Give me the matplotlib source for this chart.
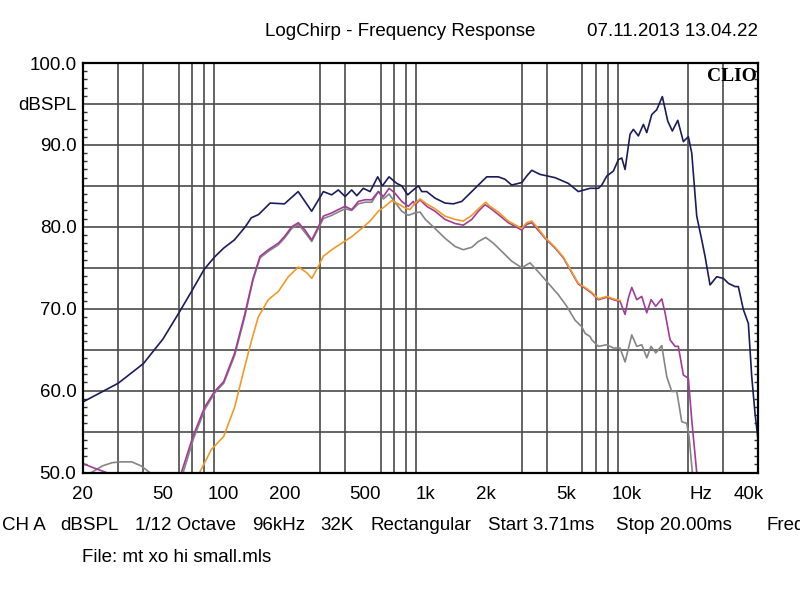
import matplotlib
matplotlib.use("Agg")
import matplotlib.pyplot as plt
from matplotlib.ticker import FixedLocator, NullFormatter

plt.rcParams['font.family'] = ['Liberation Sans', 'DejaVu Sans']

# ---------------- data ----------------
blue_f = [20, 30, 40, 50, 60, 70, 80, 90, 100, 113, 128, 137, 149, 170, 200, 234, 273, 312,
          343, 370, 400, 431, 457, 492, 532, 580, 612, 660, 721, 763, 817, 871, 923, 959,
          1015, 1116, 1251, 1376, 1514, 1665, 1830, 2014, 2299, 2482, 2678, 3003, 3179,
          3366, 3700, 4393, 5111, 5729, 6549, 7203, 7487, 7927, 8546, 9048, 9406, 9768,
          10340, 10738, 11370, 12037, 12513, 13246, 14023, 14949, 15901, 16757, 17825,
          19000, 20115, 20910, 22135, 23436, 24336, 25763, 27811, 30000, 31762, 34277,
          35592, 37680, 39900, 41475, 43065, 44720]
blue_db = [58.6, 60.9, 63.3, 66.3, 69.5, 72.3, 74.8, 76.3, 77.4, 78.4, 80.0, 81.1, 81.5, 82.9,
           82.8, 84.3, 81.9, 84.3, 83.9, 84.5, 83.7, 84.5, 83.8, 84.7, 84.3, 86.1, 85.0, 86.1,
           85.3, 85.0, 83.9, 84.5, 85.0, 84.3, 84.3, 83.5, 82.9, 82.8, 83.1, 84.1, 85.1, 86.1,
           86.1, 85.8, 85.1, 85.4, 86.2, 86.9, 86.4, 86.0, 85.3, 84.3, 84.7, 84.7, 85.1, 86.2,
           86.8, 88.2, 88.4, 87.0, 91.3, 91.9, 91.1, 92.5, 91.5, 93.7, 94.3, 95.9, 92.9, 91.7,
           93.0, 90.4, 91.0, 89.0, 81.3, 78.4, 76.4, 72.9, 73.9, 73.7, 73.1, 72.7, 72.7, 69.9,
           68.2, 61.7, 57.2, 53.6]

purple_f = [61.7, 70.4, 80.5, 90.2, 100, 113.4, 127.1, 139.8, 151.4, 166.4, 186.6, 200, 217.5,
            234.5, 253, 273.2, 289.2, 311.9, 343.2, 370, 399.5, 431.3, 465, 502, 542, 584.3,
            618.6, 660.3, 706.9, 763.2, 823, 871.3, 888.3, 940.5, 1015, 1116, 1251, 1403, 1542,
            1697, 1830, 1975, 2091, 2299, 2577, 3003, 3179, 3366, 3563, 3918, 4393, 4829, 5313,
            5729, 6186, 6678, 7203, 7927, 8546, 9225, 9768, 10142, 10544, 11164, 11818, 12513,
            13143, 13866, 14847, 15418, 16323, 17283, 17945, 19000, 20115, 20910, 22135, 22600]
purple_db = [50.0, 54.4, 58.0, 59.9, 61.1, 64.6, 69.3, 73.7, 76.4, 77.2, 78.0, 78.8, 80.0, 80.5,
             79.6, 78.4, 79.6, 81.3, 81.7, 82.1, 82.5, 82.1, 83.1, 83.3, 83.3, 84.3, 83.7, 84.7,
             84.1, 83.1, 82.5, 83.1, 82.7, 83.3, 82.5, 81.9, 80.9, 80.4, 80.2, 80.9, 81.9, 82.7,
             82.3, 81.5, 80.5, 79.6, 80.3, 80.5, 79.8, 78.6, 77.4, 76.2, 74.4, 73.0, 72.5, 71.9,
             71.1, 71.4, 71.1, 70.9, 69.3, 71.3, 72.6, 71.1, 71.5, 69.5, 71.1, 70.3, 71.2, 69.5,
             66.2, 65.4, 65.4, 61.9, 61.5, 56.4, 50.0, 48.5]
purple_low_f = [20, 23, 26.2, 28]
purple_low_db = [51.1, 50.5, 50.0, 49.5]

gray_f = [63, 71, 81, 90.2, 100, 113.4, 127.1, 139.8, 151.4, 166.4, 186.6, 200, 217.5, 234.5,
          253, 273.2, 289.2, 311.9, 343.2, 370, 399.5, 431.3, 465, 502, 542, 584.3, 618.6,
          660.3, 706.9, 763.2, 823, 888.3, 940.5, 1000, 1116, 1251, 1403, 1542, 1697, 1830,
          1991, 2171, 2390, 2678, 3003, 3300, 3629, 4068, 4562, 5018, 5517, 5957, 6186, 6549,
          6678, 7203, 7927, 8546, 9225, 9768, 10544, 11164, 11818, 12513, 13143, 13866, 14847,
          15719, 16642, 17621, 18657, 19750, 20278, 21055, 21500]
gray_db = [50.0, 54.2, 57.8, 59.7, 60.9, 64.3, 69.0, 73.5, 76.2, 77.0, 77.8, 78.6, 79.8, 80.3,
           79.3, 78.2, 79.4, 81.0, 81.4, 81.8, 82.2, 82.0, 82.8, 83.0, 83.0, 84.3, 83.4, 84.0,
           83.0, 81.9, 81.4, 81.7, 81.8, 80.9, 79.8, 78.6, 77.6, 77.2, 77.5, 78.2, 78.7, 78.0,
           77.0, 75.8, 75.0, 75.6, 74.5, 73.1, 71.7, 70.3, 68.6, 67.8, 67.0, 66.6, 66.2, 65.4,
           65.6, 65.2, 65.2, 63.5, 66.8, 65.4, 65.6, 64.0, 65.4, 64.6, 65.5, 61.7, 59.9, 59.9,
           56.2, 56.0, 54.4, 50.0, 48.0]
gray_low_f = [22.1, 25, 28, 31, 35, 39, 43, 45]
gray_low_db = [50.0, 50.8, 51.2, 51.3, 51.3, 50.8, 50.0, 49.6]

orange_f = [76, 86.8, 100, 113.4, 127.1, 137.7, 148.5, 166.4, 186.6, 209.2, 234.5, 258, 273.2,
            289.2, 311.9, 343.2, 384.6, 431.3, 483.4, 531.6, 584.3, 630.8, 680.9, 734.1, 792.5,
            839.1, 888.3, 940.5, 1015, 1116, 1251, 1403, 1542, 1697, 1830, 1991, 2091, 2299,
            2577, 3003, 3179, 3366, 3563, 3918, 4393, 4829, 5313, 5729, 6186, 6678, 7203, 7927,
            8546, 9225]
orange_db = [50.0, 52.8, 54.4, 58.0, 62.9, 66.2, 69.0, 71.1, 72.1, 73.9, 75.1, 74.4, 73.7, 74.8,
             76.4, 77.2, 78.0, 78.8, 79.8, 80.7, 81.9, 82.5, 83.2, 82.8, 82.3, 82.1, 82.9, 83.4,
             82.8, 82.2, 81.3, 80.9, 80.7, 81.4, 82.2, 83.0, 82.5, 81.8, 80.7, 79.8, 80.5, 80.7,
             80.0, 78.7, 77.5, 76.3, 74.5, 73.1, 72.6, 72.0, 71.2, 71.5, 71.2, 71.0]

x_grid = [20, 30, 40, 50, 60, 70, 80, 90, 100, 200, 300, 400, 500, 600, 700, 800, 900,
          1000, 2000, 3000, 4000, 5000, 6000, 7000, 8000, 9000, 10000, 20000, 30000, 40000]
x_tick_pos = [20, 50, 100, 200, 500, 1000, 2000, 5000, 10000, 23300, 40000]
x_tick_lbl = ['20', '50', '100', '200', '500', '1k', '2k', '5k', '10k', 'Hz', '40k']
y_tick_pos = [50, 55, 60, 65, 70, 75, 80, 85, 90, 95, 100]
y_tick_lbl = ['50.0', '', '60.0', '', '70.0', '', '80.0', '', '90.0', 'dBSPL', '100.0']

title = 'LogChirp - Frequency Response'
stamp = '07.11.2013 13.04.22'
info_items = [('CH A', 2), ('dBSPL', 60), ('1/12 Octave', 135), ('96kHz', 252), ('32K', 320),
              ('Rectangular', 370), ('Start 3.71ms', 488), ('Stop 20.00ms', 616), ('FreqL', 766)]
file_text = 'File: mt xo hi small.mls'

# ---------------- figure ----------------
FS = 13.5
W, H = 800, 598
fig = plt.figure(figsize=(W / 100, H / 100), dpi=100)
fig.patch.set_facecolor('white')
L, R, T, B = 82.7, 758.5, 63, 472.5
ax = fig.add_axes([L / W, 1 - B / H, (R - L) / W, (B - T) / H])

ax.set_xscale('log')
ax.set_xlim(20, 44800)
ax.set_ylim(50, 100)

gcol = '#4a4a4a'
ax.xaxis.set_major_locator(FixedLocator(x_tick_pos))
ax.set_xticklabels(x_tick_lbl)
ax.xaxis.set_minor_locator(FixedLocator(x_grid))
ax.xaxis.set_minor_formatter(NullFormatter())
ax.tick_params(axis='x', which='both', length=0, pad=10, labelsize=FS)
ax.grid(True, axis='x', which='minor', color=gcol, lw=1.2)

ax.yaxis.set_major_locator(FixedLocator(y_tick_pos))
ax.set_yticklabels(y_tick_lbl)
ax.yaxis.set_minor_locator(FixedLocator(list(range(50, 101))))
ax.tick_params(axis='y', which='major', length=0, pad=4.5, labelsize=FS)
ax.tick_params(axis='y', which='minor', direction='in', length=3, width=1,
               left=True, right=True, color='#333333')
ax.grid(True, axis='y', which='major', color=gcol, lw=1.2)
ax.set_axisbelow(True)

for s in ax.spines.values():
    s.set_linewidth(1.6)
    s.set_color('black')

lw = 1.2
ax.plot(gray_f, gray_db, color='#858585', lw=lw)
ax.plot(gray_low_f, gray_low_db, color='#858585', lw=lw)
ax.plot(purple_f, purple_db, color='#a23c98', lw=lw)
ax.plot(purple_low_f, purple_low_db, color='#a23c98', lw=lw)
ax.plot(orange_f, orange_db, color='#f09a28', lw=lw)
ax.plot(blue_f, blue_db, color='#1c1c5c', lw=lw)

ax.text(0.997, 0.988, 'CLIO', transform=ax.transAxes, ha='right', va='top',
        fontsize=14, fontweight='bold', family=['Liberation Serif', 'DejaVu Serif'])

def ftext(x, y, s, **kw):
    fig.text(x / W, 1 - y / H, s, fontsize=FS, va='center', **kw)

ftext(400, 31, title, ha='center')
ftext(758, 31, stamp, ha='right')
for s, x in info_items:
    ftext(x, 525, s, ha='left')
ftext(82, 557, file_text, ha='left')

fig.savefig('out.png', dpi=100, facecolor='white')
